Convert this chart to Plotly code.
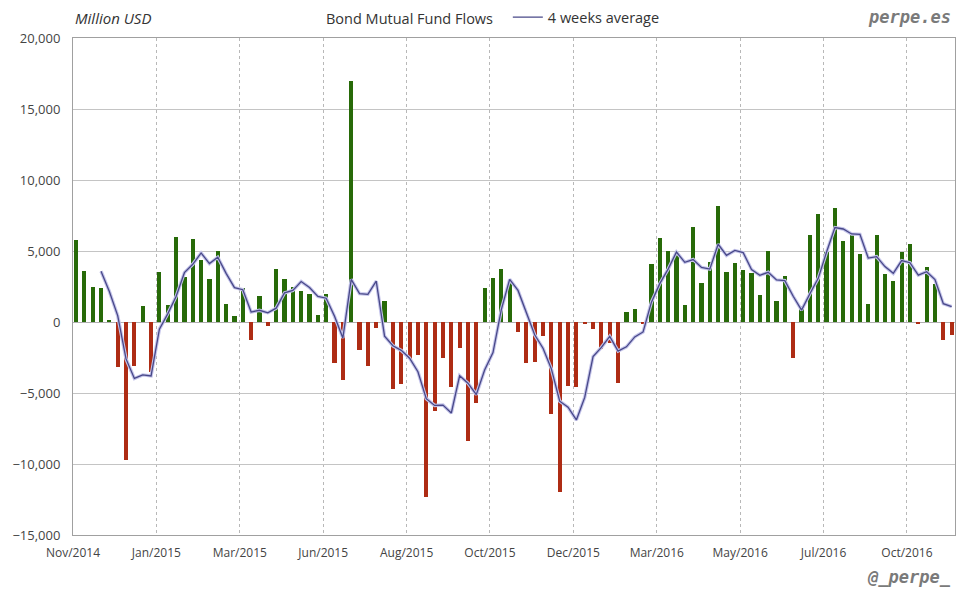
import plotly.graph_objects as go

# weekly bond mutual fund flows, million USD
flows = [
    5800, 3600, 2500, 2400, 100, -3200, -9700, -3100, 1100, -3500,
    3500, 1200, 6000, 3200, 5850, 4400, 3000, 5000, 1300, 400,
    2400, -1300, 1800, -300, 3700, 3000, 2500, 2200, 2000, 500,
    2000, -2900, -4100, 17000, -2000, -3100, -400, 1500, -4700, -4400,
    -2600, -2300, -12300, -6300, -2500, -4550, -1800, -8400, -5700, 2400,
    3100, 3700, 2800, -700, -2900, -2800, -1000, -6500, -12000, -4500,
    -4600, -150, -500, -1900, -1500, -4300, 700, 900, -100, 4100,
    5900, 5000, 4700, 1200, 6700, 2750, 4250, 8200, 3550, 4150,
    3650, 3450, 1900, 5000, 1500, 3250, -2500, 1100, 6100, 7600,
    4900, 8000, 5700, 6200, 4800, 1300, 6100, 3400, 2900, 4900,
    5500, -100, 3850, 2700, -1300, -900,
]

# 4 weeks average line, starts at the 4th week
avg4 = [
    3575, 2150, 450, -2600, -3975, -3725, -3800, -500, 575, 1800,
    3475, 4062, 4862, 4112, 4562, 3425, 2425, 2275, 700, 825,
    650, 975, 2050, 2225, 2850, 2425, 1800, 1675, 400, -1125,
    3000, 2000, 1950, 2875, -1000, -1675, -2000, -2550, -3500, -5400,
    -5875, -5850, -6412, -3788, -4312, -5112, -3375, -2150, 875, 3000,
    2225, 725, -900, -1850, -3300, -5575, -6000, -6900, -5312, -2438,
    -1788, -1012, -2050, -1750, -1050, -700, 1400, 2700, 3725, 4925,
    4200, 4400, 3838, 3725, 5475, 4688, 5038, 4888, 3700, 3288,
    3500, 2962, 2912, 1812, 838, 1988, 3075, 4925, 6650, 6550,
    6200, 6175, 4500, 4600, 3900, 3425, 4325, 4175, 3300, 3538,
    2988, 1288, 1088,
]

tick_labels = ["Nov/2014", "Jan/2015", "Mar/2015", "Jun/2015", "Aug/2015", "Oct/2015",
               "Dec/2015", "Mar/2016", "May/2016", "Jul/2016", "Oct/2016"]

weeks = list(range(len(flows)))
avg_weeks = weeks[len(flows) - len(avg4):]
bar_colors = ["#276a08" if v >= 0 else "#ae2c14" for v in flows]

fig = go.Figure()

fig.add_trace(go.Bar(
    x=weeks, y=flows, name="Bond Mutual Fund Flows",
    marker=dict(color=bar_colors, line=dict(width=0)),
    width=0.5, showlegend=False,
))

# light halo under the average line
fig.add_trace(go.Scatter(
    x=avg_weeks, y=avg4, mode="lines", showlegend=False, hoverinfo="skip",
    line=dict(color="#c4c4ea", width=3.4),
))
fig.add_trace(go.Scatter(
    x=avg_weeks, y=avg4, mode="lines", name="4 weeks average",
    line=dict(color="#484888", width=1.3),
))

# page body adds 8px around the figure, so size and margins account for it
fig.update_layout(
    width=972, height=592,
    margin=dict(l=65, r=25, t=30, b=65, autoexpand=False),
    paper_bgcolor="white", plot_bgcolor="white",
    font=dict(family="Open Sans", size=12, color="#333"),
    bargap=0,
    showlegend=True,
    legend=dict(orientation="h", x=0.493, y=1.074, xanchor="left", yanchor="top",
                bgcolor="rgba(0,0,0,0)", font=dict(size=14.5, color="#333"),
                itemwidth=30),
)

fig.update_xaxes(
    range=[-0.36, 105.4],
    tickmode="array",
    tickvals=[10 * k - 0.36 for k in range(len(tick_labels))],
    ticktext=tick_labels,
    ticks="outside", ticklen=7, tickcolor="rgba(0,0,0,0)",
    showgrid=True, gridcolor="#b8b8b8", griddash="dot",
    showline=True, linecolor="#a0a0a0", mirror=True, zeroline=False,
    tickfont=dict(size=12, color="#444"), automargin=False,
)
fig.update_yaxes(
    range=[-15000, 20000], dtick=5000, tickformat=",",
    ticks="outside", ticklen=9, tickcolor="rgba(0,0,0,0)",
    showgrid=True, gridcolor="#c4c4c4",
    showline=True, linecolor="#a0a0a0", mirror=True,
    zeroline=True, zerolinecolor="#b0b0b0", zerolinewidth=1,
    tickfont=dict(size=13, color="#444"), automargin=False,
)

fig.add_annotation(text="<i>Million USD</i>", xref="paper", yref="paper",
                   x=0, y=1.04, xanchor="left", yanchor="middle", showarrow=False,
                   font=dict(size=15, color="#333"))
fig.add_annotation(text="Bond Mutual Fund Flows", xref="paper", yref="paper",
                   x=0.381, y=1.04, xanchor="center", yanchor="middle", showarrow=False,
                   font=dict(size=14.5, color="#333"))
fig.add_annotation(text="<b><i>perpe.es</i></b>", xref="paper", yref="paper",
                   x=0.998, y=1.042, xanchor="right", yanchor="middle", showarrow=False,
                   font=dict(family="DejaVu Sans Mono", size=17, color="#7a7a7a"))
fig.add_annotation(text="<b><i>@_perpe_</i></b>", xref="paper", yref="paper",
                   x=0.998, y=-0.085, xanchor="right", yanchor="middle", showarrow=False,
                   font=dict(family="DejaVu Sans Mono", size=17, color="#7a7a7a"))

fig.write_html("out.html")
